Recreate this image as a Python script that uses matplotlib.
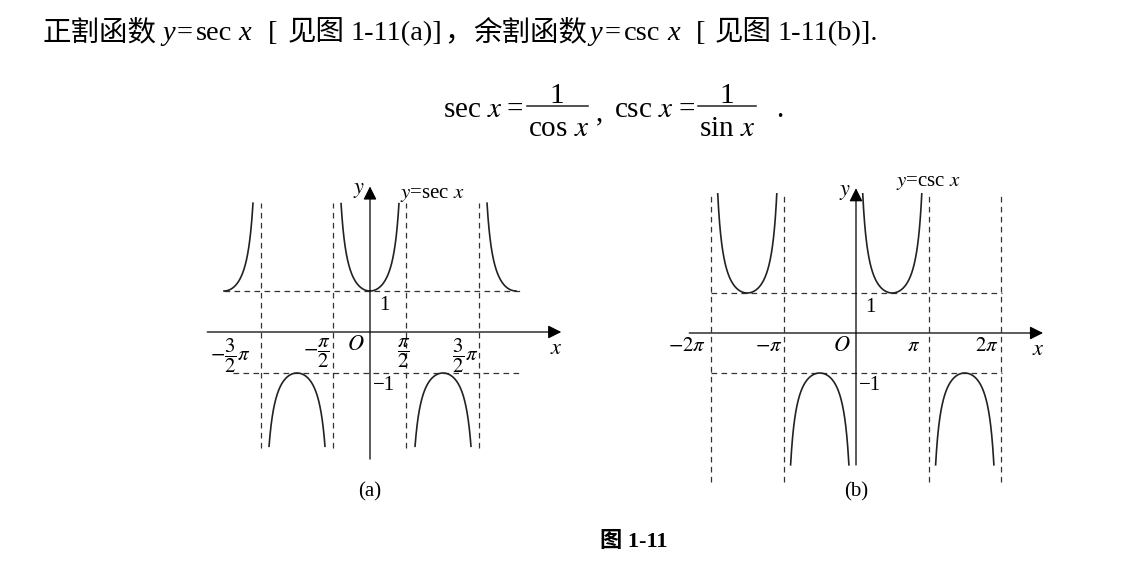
import numpy as np
import matplotlib.pyplot as plt
from matplotlib.lines import Line2D

plt.rcParams['mathtext.fontset'] = 'stix'
plt.rcParams['font.family'] = ['Liberation Serif', 'Noto Sans CJK SC']

W, H = 1148, 576

# graph (a): y = sec x, x positions in multiples of pi
sec_asym = [-1.5, -0.5, 0.5, 1.5]
sec_upper = [(-2.0, -1.5), (-0.5, 0.5), (1.5, 2.0)]
sec_lower = [(-1.5, -0.5), (0.5, 1.5)]
sec_ylim = (-2.8, 3.15)
sec_guides = [(1, -2.0, 2.08), (-1, -1.88, 2.08)]
sec_vline_span = (-2.83, 3.15)
sec_xaxis = (-2.23, 2.62)
sec_yaxis = (-3.1, 3.55)
sec_ticks = [-1.5, -0.5, 0.5, 1.5]
sec_ticklabels = [r'$-\dfrac{3}{2}\pi$', r'$-\dfrac{\pi}{2}$', r'$\dfrac{\pi}{2}$', r'$\dfrac{3}{2}\pi$']
sec_label_dx = [-30, -17, -3, -14]

# graph (b): y = csc x
csc_asym = [-2.0, -1.0, 1.0, 2.0]
csc_upper = [(-2.0, -1.0), (0.0, 1.0)]
csc_lower = [(-1.0, 0.0), (1.0, 2.0)]
csc_ylim = (-3.3, 3.5)
csc_guides = [(1, -2.0, 2.02), (-1, -2.0, 2.02)]
csc_vline_span = (-3.72, 3.5)
csc_xaxis = (-2.3, 2.58)
csc_yaxis = (-3.3, 3.62)
csc_ticks = [-2.0, -1.0, 1.0, 2.0]
csc_ticklabels = [r'$-2\pi$', r'$-\pi$', r'$\pi$', r'$2\pi$']
csc_label_dx = [-24, -15, -15, -14]

# header line: (left x in px, text, style)
header = [(42, '正割函数', 'normal'), (162, 'y', 'italic'), (177, '=', 'normal'),
          (196, 'sec', 'normal'), (238, 'x', 'italic'), (268, '[', 'normal'),
          (288, '见图', 'normal'), (351, '1-11(a)]', 'normal'), (444, '，', 'normal'),
          (473, '余割函数', 'normal'), (589, 'y', 'italic'), (605, '=', 'normal'),
          (624, 'csc', 'normal'), (667, 'x', 'italic'), (696, '[', 'normal'),
          (715, '见图', 'normal'), (778, '1-11(b)].', 'normal')]

fig = plt.figure(figsize=(W / 100, H / 100), dpi=100)


def fpos(x, y):
    return x / W, 1 - y / H


def draw_graph(ox, oy, ux, uy, func, asym, upper, lower, ylim, guides, vspan,
               xaxis, yaxis, ticks, ticklabels, label_dx, name, name_xy, panel):
    ax = fig.add_axes([0, 0, 1, 1])
    ax.set_xlim(-ox / ux, (W - ox) / ux)
    ax.set_ylim((oy - H) / uy, oy / uy)
    ax.axis('off')
    dash = dict(color='#333333', lw=0.9, dashes=(4.5, 3.5))
    for a in asym:
        ax.plot([a, a], vspan, **dash)
    for yv, x0, x1 in guides:
        ax.plot([x0, x1], [yv, yv], **dash)
    for pieces, sign in ((upper, 1), (lower, -1)):
        for a, b in pieces:
            x = np.linspace(a + 1e-4, b - 1e-4, 1500)
            y = func(x * np.pi)
            m = (y * sign > 0) & (y <= ylim[1]) & (y >= ylim[0])
            ax.plot(x[m], y[m], color='#222222', lw=1.2)
    arrow = dict(arrowstyle='-|>', color='black', lw=0.9, mutation_scale=20,
                 shrinkA=0, shrinkB=0)
    ax.annotate('', xy=(xaxis[1], 0), xytext=(xaxis[0], 0), arrowprops=arrow)
    ax.annotate('', xy=(0, yaxis[1]), xytext=(0, yaxis[0]), arrowprops=arrow)
    for t, lab, dx in zip(ticks, ticklabels, label_dx):
        ax.annotate(lab, xy=(t, 0), xytext=(dx, -4), textcoords='offset pixels',
                    ha='center', va='top', fontsize=15)
    ax.annotate(r'$O$', xy=(0, 0), xytext=(-5, -4), textcoords='offset pixels',
                ha='right', va='top', fontsize=16)
    ax.annotate('1', xy=(0, 1), xytext=(9, -5), textcoords='offset pixels',
                ha='left', va='top', fontsize=15)
    ax.annotate('\u22121', xy=(0, -1), xytext=(3, -3), textcoords='offset pixels',
                ha='left', va='top', fontsize=15)
    ax.annotate(r'$y$', xy=(0, yaxis[1]), xytext=(-5, -4), textcoords='offset pixels',
                ha='right', va='center', fontsize=16)
    ax.annotate(r'$x$', xy=(xaxis[1], 0), xytext=(-5, -8), textcoords='offset pixels',
                ha='center', va='top', fontsize=16)
    fig.text(*fpos(*name_xy), name, fontsize=15, ha='left', va='baseline')
    fig.text(*fpos(ox, 496), panel, fontsize=15, ha='center', va='baseline')


draw_graph(370, 332, 73, 41, lambda v: 1 / np.cos(v), sec_asym, sec_upper, sec_lower,
           sec_ylim, sec_guides, sec_vline_span, sec_xaxis, sec_yaxis,
           sec_ticks, sec_ticklabels, sec_label_dx, r'$y$=sec $x$', (400, 198), '(a)')
draw_graph(856, 333, 72.5, 40, lambda v: 1 / np.sin(v), csc_asym, csc_upper, csc_lower,
           csc_ylim, csc_guides, csc_vline_span, csc_xaxis, csc_yaxis,
           csc_ticks, csc_ticklabels, csc_label_dx, r'$y$=csc $x$', (896, 186), '(b)')

# header text
for x, s, style in header:
    fig.text(*fpos(x, 40), s, fontsize=20.5, fontstyle=style, ha='left', va='baseline')

# formula line: sec x = 1/cos x , csc x = 1/sin x .
fs = 21
fig.text(*fpos(443, 117), r'sec $x$', fontsize=fs, va='baseline')
fig.text(*fpos(506, 117), '=', fontsize=fs, va='baseline')
fig.text(*fpos(557, 103), '1', fontsize=fs, ha='center', va='baseline')
fig.text(*fpos(559, 136), r'cos $x$', fontsize=fs, ha='center', va='baseline')
fig.add_artist(Line2D([527 / W, 588 / W], [1 - 106 / H] * 2, color='#222222', lw=1.1))
fig.text(*fpos(596, 120), ',', fontsize=fs, va='baseline')
fig.text(*fpos(614, 117), r'csc $x$', fontsize=fs, va='baseline')
fig.text(*fpos(679, 117), '=', fontsize=fs, va='baseline')
fig.text(*fpos(727, 103), '1', fontsize=fs, ha='center', va='baseline')
fig.text(*fpos(727, 136), r'sin $x$', fontsize=fs, ha='center', va='baseline')
fig.add_artist(Line2D([698 / W, 756 / W], [1 - 106 / H] * 2, color='#222222', lw=1.1))
fig.text(*fpos(776, 117), '.', fontsize=fs, va='baseline')

fig.text(*fpos(634, 547), '图 1-11', fontsize=16, fontweight='bold', ha='center',
         va='baseline')

fig.savefig('out.png', dpi=100, facecolor='white')
